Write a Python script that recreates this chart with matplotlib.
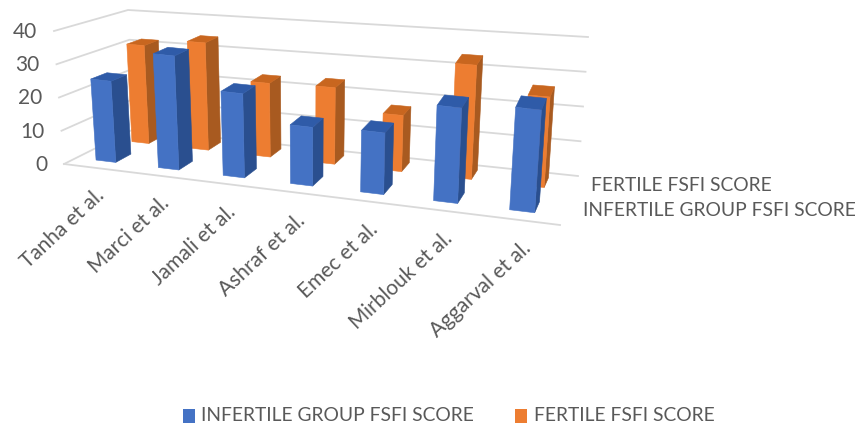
import matplotlib
matplotlib.use("Agg")
import matplotlib.pyplot as plt
from matplotlib.patches import Polygon, Rectangle
import numpy as np

studies = ["Tanha et al.", "Marci et al.", "Jamali et al.", "Ashraf et al.",
           "Emec et al.", "Mirblouk et al.", "Aggarval et al."]
infertile = [24.8, 34.7, 25.5, 17.7, 18.5, 28.5, 30.5]
fertile = [31.5, 34, 23, 23.5, 17, 34, 26.5]
z_ticks = [0, 10, 20, 30, 40]
series_names = ["INFERTILE GROUP FSFI SCORE", "FERTILE FSFI SCORE"]

FONT = "Lato"
TEXT = "#595959"
GRID = "#D9D9D9"
BLUE = ("#4472C4", "#2A4F8F", "#2F5BA8")
ORANGE = ("#ED7D31", "#A85A20", "#C8661F")

# chart-box corners in pixels: (x index 0..n, depth 0..1, height)
n = len(studies)
C = {
    (0, 0, 0): (64, 165), (1, 0, 0): (560, 226),
    (0, 1, 0): (134, 130), (1, 1, 0): (578, 177),
    (0, 0, 1): (54, 32), (1, 0, 1): (570, 92),
    (0, 1, 1): (128, 11), (1, 1, 1): (588, 38),
}
ZMAX = 40.0
PERSP = 1.15


def proj(u, v, z):
    s = u / n
    a = s / (s + PERSP * (1 - s))
    b, c = v, z / ZMAX
    p = np.zeros(2)
    for (i, j, k), xy in C.items():
        w = (a if i else 1 - a) * (b if j else 1 - b) * (c if k else 1 - c)
        p += w * np.array(xy)
    return p


def bar(ax, u0, u1, v0, v1, h, cols, zo):
    f, s, t = cols
    front = [proj(u0, v0, 0), proj(u1, v0, 0), proj(u1, v0, h), proj(u0, v0, h)]
    side = [proj(u1, v0, 0), proj(u1, v1, 0), proj(u1, v1, h), proj(u1, v0, h)]
    top = [proj(u0, v0, h), proj(u1, v0, h), proj(u1, v1, h), proj(u0, v1, h)]
    for pts, col in ((side, s), (top, t), (front, f)):
        ax.add_patch(Polygon(pts, closed=True, fc=col, ec=col, lw=0.4, zorder=zo))


fig = plt.figure(figsize=(8.64, 4.27), dpi=100)
ax = fig.add_axes([0, 0, 1, 1])
ax.set_xlim(0, 864)
ax.set_ylim(427, 0)
ax.axis("off")

for z in z_ticks:
    a, b, c = proj(0, 0, z), proj(0, 1, z), proj(n, 1, z)
    ax.plot([a[0], b[0], c[0]], [a[1], b[1], c[1]], color=GRID, lw=1.3, zorder=1)
    ax.text(a[0] - 17, a[1], str(z), ha="right", va="center",
            fontsize=15, color=TEXT, family=FONT)
a, b = proj(0, 0, 0), proj(n, 0, 0)
ax.plot([a[0], b[0]], [a[1], b[1]], color=GRID, lw=1.3, zorder=1)

for i, val in enumerate(fertile):
    bar(ax, i + 0.33, i + 0.62, 0.70, 0.905, val, ORANGE, 2 + i * 0.01)
for i, val in enumerate(infertile):
    bar(ax, i + 0.32, i + 0.64, 0.18, 0.41, val, BLUE, 3 + i * 0.01)

for i, name in enumerate(studies):
    p = proj(i + 0.62, 0, 0)
    ax.text(p[0] - 1, p[1] + 23, name, rotation=43, rotation_mode="anchor",
            ha="right", va="center", fontsize=15, color=TEXT, family=FONT)

# depth-axis series labels
ax.text(591, 186, series_names[1], ha="left", va="center", fontsize=13.85, color=TEXT, family=FONT)
ax.text(583, 211, series_names[0], ha="left", va="center", fontsize=13.85, color=TEXT, family=FONT)

# legend
ax.add_patch(Rectangle((183, 410), 12, 14, fc=BLUE[0], ec="none"))
ax.text(201, 416, series_names[0], ha="left", va="center", fontsize=13.85, color=TEXT, family=FONT)
ax.add_patch(Rectangle((515, 410), 12, 14, fc=ORANGE[0], ec="none"))
ax.text(534, 416, series_names[1], ha="left", va="center", fontsize=13.85, color=TEXT, family=FONT)

fig.savefig("out.png", dpi=100, facecolor="white")
